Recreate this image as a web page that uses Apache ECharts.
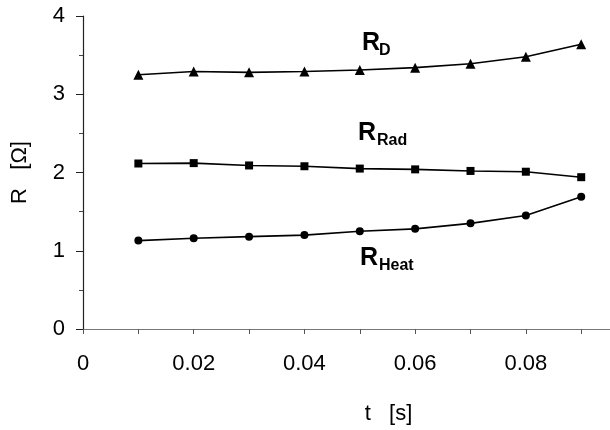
<!DOCTYPE html>
<html>
<head>
<meta charset="utf-8">
<script src="https://cdn.jsdelivr.net/npm/echarts@6/dist/echarts.min.js"></script>
<style>html,body{margin:0;padding:0;background:#fff}#c{width:610px;height:430px}</style>
</head>
<body>
<div id="c"></div>
<script>
var tValues = [0.01, 0.02, 0.03, 0.04, 0.05, 0.06, 0.07, 0.08, 0.09];
var rD    = [3.25, 3.29, 3.28, 3.29, 3.31, 3.34, 3.39, 3.48, 3.64];
var rRad  = [2.115, 2.12, 2.09, 2.08, 2.05, 2.04, 2.02, 2.01, 1.94];
var rHeat = [1.13, 1.16, 1.18, 1.20, 1.25, 1.28, 1.35, 1.45, 1.69];
var yTicks = [0, 1, 2, 3, 4];
var xLabelTicks = [0, 0.02, 0.04, 0.06, 0.08];
var seriesNames = ['D', 'Rad', 'Heat'];

function pairs(vals){ return tValues.map(function(t,i){ return [t, vals[i]]; }); }
var FONT = '"Liberation Sans", Arial, sans-serif';

var chart = echarts.init(document.getElementById('c'), null, {renderer:'canvas'});

function lbl(x, y, sub, sx, sy){
  return {
    type:'group', children:[
      {type:'text', x:x, y:y, style:{text:'R', font:'bold 25px '+FONT, fill:'#000', textVerticalAlign:'middle', verticalAlign:'middle'}},
      {type:'text', x:sx, y:sy, style:{text:sub, font:'bold 16px '+FONT, fill:'#000', textVerticalAlign:'middle', verticalAlign:'middle'}}
    ]
  };
}

var common = {type:'line', color:'#000', lineStyle:{color:'#000', width:1.6}, itemStyle:{color:'#000'}, animation:false, z:5};

chart.setOption({
  animation:false,
  backgroundColor:'#fff',
  grid:{left:83, top:16, right:0, bottom:101, containLabel:false},
  xAxis:{
    type:'value', min:0, max:0.0952, interval:0.01,
    name:'t   [s]', nameLocation:'middle', nameGap:74,
    nameTextStyle:{fontFamily:FONT, fontSize:22, color:'#000', padding:[0,0,0,84]},
    axisLine:{show:true, lineStyle:{color:'#777', width:1.2}},
    axisTick:{show:true, length:5, lineStyle:{color:'#555'}},
    axisLabel:{fontFamily:FONT, fontSize:22, color:'#000', margin:24, showMaxLabel:false,
      formatter:function(v){ for (var i=0;i<xLabelTicks.length;i++){ if (Math.abs(v-xLabelTicks[i])<1e-6) return String(xLabelTicks[i]); } return ''; }},
    splitLine:{show:false}
  },
  yAxis:{
    type:'value', min:0, max:4, interval:1,
    name:'R   [Ω]', nameLocation:'middle', nameGap:52, nameRotate:90,
    nameTextStyle:{fontFamily:FONT, fontSize:22, color:'#000'},
    axisLine:{show:true, lineStyle:{color:'#222', width:1.2}},
    axisTick:{show:true, length:7, lineStyle:{color:'#222'}},
    minorTick:{show:true, splitNumber:2, length:4, lineStyle:{color:'#444'}},
    axisLabel:{fontFamily:FONT, fontSize:22, color:'#000', margin:18,
      formatter:function(v){ return yTicks.indexOf(v) >= 0 ? String(v) : ''; }},
    splitLine:{show:false}
  },
  series:[
    Object.assign({}, common, {name:seriesNames[0], data:pairs(rD), symbol:'triangle', symbolSize:10}),
    Object.assign({}, common, {name:seriesNames[1], data:pairs(rRad), symbol:'rect', symbolSize:8}),
    Object.assign({}, common, {name:seriesNames[2], data:pairs(rHeat), symbol:'circle', symbolSize:8})
  ],
  graphic:[
    lbl(362, 43, seriesNames[0], 379, 51),
    lbl(358, 133, seriesNames[1], 377, 141),
    lbl(360, 258, seriesNames[2], 379, 266)
  ]
});
</script>
</body>
</html>
